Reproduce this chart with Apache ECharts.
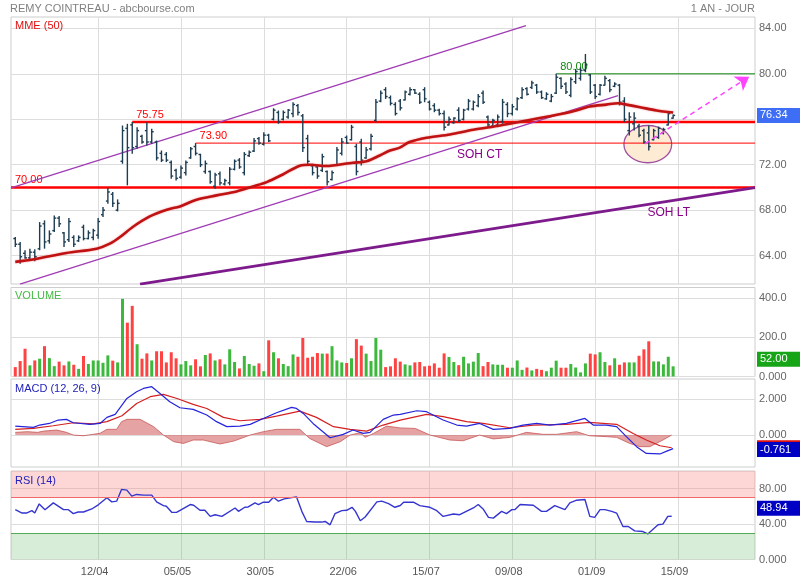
<!DOCTYPE html>
<html><head><meta charset="utf-8">
<script src="https://cdn.jsdelivr.net/npm/echarts@6/dist/echarts.min.js"></script>
<style>html,body{margin:0;padding:0;background:#fff}#c{width:800px;height:580px}</style>
</head><body><div id="c"></div>
<script>
// ---------- DATA ----------
const tickIdx = [17, 34, 51, 68, 85, 102, 119, 136];
const tickLabels = ['12/04', '05/05', '30/05', '22/06', '15/07', '09/08', '01/09', '15/09'];

const opens = [65.5,65.0,64.2,63.8,64.3,64.6,66.8,65.3,66.2,67.3, 66.0,65.4,65.6,65.3,66.5,65.5,65.6,65.8,67.6,68.8,
 69.4,68.0,72.3,75.2,75.5,73.6,74.5,75.0,74.0,74.0, 73.0,72.9,72.2,71.5,70.9,71.3,72.6,73.6,72.9,71.4,
 71.4,70.1,71.2,70.3,70.4,71.6,72.4,71.3,72.8,73.2, 74.3,73.8,74.6,76.0,76.6,76.0,76.2,76.5,77.2,76.3,
 74.3,71.9,71.8,71.5,71.4,70.7,72.0,73.0,74.4,74.2, 73.6,74.0,72.6,73.4,75.9,77.6,78.6,77.9,77.3,77.6,
 77.7,78.2,78.6,78.2,78.6,77.5,77.2,76.8,76.5,75.5, 75.7,76.8,76.0,76.9,76.9,77.2,78.3,76.2,75.4,75.5,
 75.8,77.3,76.5,76.9,77.9,78.7,78.8,79.0,78.4,77.8, 77.6,78.3,79.6,79.1,78.1,79.3,79.6,80.3,79.9,79.0,
 78.2,79.0,79.4,78.9,79.0,77.6,75.0,75.6,75.4,75.0, 74.8,74.2,74.4,74.8,75.5,76.1];
const highs = [65.64,65.20,64.47,64.61,64.55,66.95,67.10,66.22,67.54,67.48, 66.08,67.31,65.78,65.78,66.72,66.22,66.37,67.31,68.27,69.94,
 69.59,68.95,75.45,75.60,75.75,75.30,74.63,75.74,75.16,74.13, 73.25,73.11,72.37,71.64,71.93,72.37,73.55,73.90,72.96,72.37,
 71.50,71.29,71.41,70.76,71.79,72.46,72.58,73.11,73.25,74.34, 74.43,74.86,74.72,76.97,76.77,76.77,76.91,77.50,77.35,76.47,
 74.63,72.08,71.99,72.96,71.50,71.50,73.55,74.34,74.57,75.51, 73.84,74.28,73.55,74.72,77.79,78.53,78.82,78.09,77.50,77.79,
 78.53,78.82,78.67,78.38,78.82,77.65,77.41,76.92,76.77,76.24, 76.18,77.06,76.92,77.79,77.65,78.23,78.53,76.33,76.04,76.42,
 77.79,77.50,77.35,77.94,78.82,78.82,79.40,79.11,78.53,78.38, 78.23,80.00,79.70,79.26,79.70,80.43,80.58,81.75,79.99,79.11,
 79.11,79.84,79.55,79.26,79.11,77.94,76.62,76.62,75.60,75.16, 75.45,75.16,75.36,75.25,76.71,76.42];
const lows = [64.76,63.29,63.73,63.59,63.50,64.47,64.61,65.05,66.08,66.52, 64.76,65.20,64.76,65.20,65.34,65.43,65.34,65.49,67.40,68.57,
 68.27,67.89,72.08,70.18,72.96,73.40,73.84,73.69,73.84,72.37, 72.23,72.23,70.76,70.62,70.76,71.06,72.52,72.81,71.79,71.20,
 70.32,69.88,70.18,70.18,70.18,71.50,71.64,71.06,72.67,73.11, 73.75,73.69,73.99,75.89,75.60,75.89,76.04,76.18,76.33,73.11,
 71.93,71.06,70.76,71.35,70.18,70.62,71.93,72.81,73.84,74.13, 71.06,71.94,72.52,73.25,75.74,77.50,77.79,77.21,76.33,76.77,
 77.65,78.09,78.23,77.35,77.50,76.77,76.62,76.33,75.01,75.45, 75.60,75.74,75.89,76.77,76.77,77.06,77.35,75.30,75.25,75.30,
 75.60,76.18,76.33,76.77,77.79,78.09,78.67,78.23,77.79,77.71, 77.50,78.23,78.67,78.23,77.94,79.11,79.40,80.14,78.23,77.79,
 78.09,78.96,78.38,78.82,77.21,75.74,74.57,75.01,74.42,73.84, 73.25,74.13,74.28,74.66,75.45,76.04];
const closes = [65.0,63.9,63.8,64.3,63.9,66.6,65.2,65.9,67.3,66.8, 65.2,67.0,65.0,65.6,65.5,66.0,66.2,67.0,68.0,69.6,
 68.6,68.6,75.0,73.5,73.5,75.0,74.0,74.0,74.9,72.6, 72.4,72.4,71.0,70.8,71.7,72.2,73.4,73.0,72.0,72.1,
 70.5,71.1,70.4,70.6,71.6,72.3,71.8,72.9,73.1,74.1, 73.9,74.6,74.1,76.8,75.8,76.6,76.8,77.3,76.6,73.5,
 72.3,71.3,71.0,72.7,70.5,71.3,73.3,74.0,73.9,75.3, 71.4,72.4,73.3,74.5,77.5,78.3,78.0,77.4,76.5,77.0,
 78.4,78.6,78.3,77.5,77.8,76.9,76.8,76.5,75.3,76.0, 76.1,75.9,76.8,77.6,77.5,78.0,77.5,75.5,75.9,76.2,
 77.5,76.5,77.1,77.8,78.6,78.2,79.2,78.4,77.9,78.2, 78.0,79.7,78.9,78.4,79.5,80.2,80.3,80.8,78.4,78.0,
 79.0,79.6,78.6,79.1,77.5,76.0,76.2,76.1,74.6,74.0, 73.6,75.0,75.2,75.1,76.5,76.34];

const volumes = [48,79,142,57,82,91,155,94,53,76, 57,77,60,39,105,64,82,82,70,108,
 81,72,397,275,361,165,91,118,82,129, 129,72,124,93,62,79,57,88,52,110,
 118,82,88,62,139,74,41,105,64,55, 67,27,185,124,93,64,53,113,101,197,
 96,101,120,117,117,155,82,72,69,93, 191,158,117,79,197,137,48,52,93,76,
 62,57,72,74,52,55,67,45,118,100, 74,58,101,67,76,120,53,74,62,60,
 60,45,45,82,34,46,31,39,34,27, 45,81,45,45,64,46,21,67,117,113,
 124,74,57,93,60,72,72,72,106,139, 180,77,77,62,101,52];
const volumeUp = [0,0,0,1,0,1,0,1,1,0, 0,1,0,1,0,1,1,1,1,1, 0,1,1,0,0,1,0,0,1,0, 0,0,0,0,1,1,1,0,0,1,
 0,1,0,1,1,1,0,1,1,1, 0,1,0,1,0,1,1,1,0,0, 0,0,0,1,0,1,1,1,0,1, 0,0,1,1,1,1,0,0,0,0,
 1,1,0,0,0,0,0,0,0,1, 1,0,1,1,1,1,0,0,1,1, 1,0,1,1,1,0,1,0,0,1, 1,1,0,0,1,1,1,1,0,0,
 1,1,0,1,0,0,1,1,0,0, 0,1,1,1,1,1];

const mmeX = [0,3.6,10.5,16.7,19.4,21.5,24.1,27.6,31.1,33.8,37.2,41.3,45.4,48.8,51.6,54.9,58.4,60.5,63.9,65.2,
 69.3,72.1,74.8,76.9,78.9,80.9,84.4,89.2,94,99.5,105,110.4,114.5,117.9,121.3,123.7,125.4,128.2,131.6,135];
const mmeY = [63.45,63.65,64.23,64.61,65.05,65.64,66.52,67.45,68.04,68.33,68.92,69.30,69.65,70.09,70.47,71.14,71.91,71.99,71.88,71.93,
 72.17,72.31,72.81,73.25,73.5,73.99,74.37,74.66,75.07,75.45,75.89,76.33,76.71,77.12,77.29,77.41,77.29,77.06,76.77,76.59];

const macdX = [0,3.7,5,7,8.8,10.5,11.9,15.3,17.4,18.8,20.5,22.9,24.9,26.3,28,29.7,31.7,33.8,36.5,39.3,
 41.3,43.4,46.1,48.2,50.9,53.6,56.7,57.7,59.1,61.1,64.6,67.3,69.3,71.4,72.8,75.5,77.6,79,82.4,84.4,
 87.8,90.6,92.6,95.3,98.1,101.5,104.2,107,109.7,113.1,116.9,118.6,121.3,123.4,125.4,127.5,129.5,132.3,133.7,135];
const macdY = [0.50,0.43,0.56,0.65,0.84,0.88,0.69,0.60,0.65,0.99,1.16,2.05,2.43,2.61,2.71,2.33,1.87,1.53,1.44,1.12,
 0.75,0.47,0.50,0.60,0.93,1.25,1.55,1.49,1.21,0.65,-0.15,0.04,0.28,0.09,0.15,0.88,1.12,1.16,1.36,1.31,
 0.84,0.56,0.50,0.65,0.32,0.37,0.56,0.65,0.56,0.65,0.93,0.56,0.56,0.47,-0.09,-0.65,-1.03,-1.06,-0.90,-0.761];
const signalX = [0,3.7,7.8,11.9,16,18.8,21.9,24.9,27.7,30.4,33.2,36.5,39.3,42.7,46.1,50.2,53.6,58.4,61.8,65.3,
 68.7,72.1,75.5,79,84.4,87.8,92.6,96,101.5,106.3,113.1,117.8,123.4,126.8,129.5,132.3,134.7];
const signalY = [0.32,0.37,0.52,0.69,0.63,0.75,1.08,1.77,2.15,2.28,2.05,1.72,1.49,0.99,0.80,0.88,1.06,1.34,0.99,0.47,
 0.32,0.22,0.56,0.84,1.16,1.03,0.75,0.65,0.41,0.56,0.60,0.71,0.60,0.09,-0.28,-0.60,-0.71];
const histX = [0,2.5,4.6,5.8,8.5,10.5,11.9,14,17.4,18.8,20.8,21.8,22.9,25.6,28.4,30.4,32.5,34.5,36.5,38.6,
 42,44.8,48.2,50.9,53.6,58.4,60.4,63.9,66.7,68.7,70.8,71.8,73.5,76.2,79,82.1,85.1,89.2,91.9,95.3,
 98.1,101.5,104.9,108.3,111.1,115.2,117.8,121.3,123.4,126.1,128.2,130.2,132.9,134.7];
const histY = [0.15,0.19,0.15,0.22,0.28,0.15,0,-0.04,0.10,0.32,0.32,0.75,0.88,0.88,0.47,0,-0.37,-0.47,-0.28,-0.28,
 -0.50,-0.34,0,0.19,0.32,0.32,-0.19,-0.65,-0.37,0,0.13,-0.13,0.09,0.50,0.40,0.37,0,-0.28,-0.32,0,
 -0.22,-0.13,0.15,0.04,0.04,0.19,-0.04,-0.09,-0.13,-0.47,-0.65,-0.65,-0.28,0];

const rsiX = [0,1.4,2.3,3.4,4,4.9,6.1,7.8,9.9,10.9, 11.9,12.9,14,15.7,17.1,18.8,19.8,20.8,21.8,22.9,
 23.9,24.9,26.3,28,29,30.4,31,32.1,33.1,35.9, 36.6,37.9,38.9,40,41,42.4,45.1,45.8,47.1,47.8,
 49.2,49.9,50.9,52,53,54,55.2,57.7,58.8,59.8, 61.5,62.9,63.6,64.6,65.6,67,68,69.1,69.8,70.8,
 71.8,74.2,75.2,76.6,77.9,79,79.7,81.7,83,85.1, 86.5,87.8,89.9,91.2,94,95,96,97.1,98.1,99.8,
 100.8,101.9,102.5,103.6,106.3,108,109,110.7,112.8,113.8, 115.2,116.9,117.9,118.9,120,121,122.4,123.4,124.7,125.8,
 127.1,128.8,129.8,131.9,132.9,133.9,134.7];
const rsiY = [56.3,52.5,52.5,55.2,52.5,62.8,56.3,64.0,56.3,56.3, 51.8,53.7,53.7,57.1,62.1,69.7,65.1,65.9,79.2,78.4,
 71.6,73.5,72.7,72.7,65.1,60.9,60.2,53.3,53.3,62.1, 61.3,55.6,55.6,48.7,50.6,48.7,58.2,54.4,59.0,59.4,
 64.0,62.1,64.7,64.7,70.4,65.9,68.5,70.8,54.4,43.0, 42.3,42.3,43.0,39.2,51.8,55.2,55.6,59.0,54.4,43.8,
 48.0,65.1,65.9,63.2,59.0,61,64.7,64.7,60.9,59.0, 55.2,48.7,51.4,50.6,58.2,62.1,57.1,47.6,46.8,54.4,
 51.8,56.3,56.3,62.1,61.3,54.4,54.4,60.9,56.3,64.0, 67.0,67.8,48.7,47.6,56.3,56.3,54.4,52.5,37.3,37.3,
 32.3,31.6,28.9,39.2,40.0,48.7,48.94];
const rsiBands = [70, 30];

// annotations (in data units)
const levelValues = [70, 75.75, 73.9, 80];
const levelStart = [-0.88, 24, 37, 111];
const channelUpper = [[-0.88, 69.96], [104.8, 84.24]];
const channelLower = [[0.96, 61.48], [123.7, 78.09]];
const longSupport = [[25.6, 61.48], [151.8, 69.98]];
const targetArrow = [[129.2, 73.84], [150.6, 79.75]];
const zoneEllipse = [129.8, 73.81, 4.9, 1.64];
const trendNames = ['SOH CT', 'SOH LT'];
const trendNameAt = [[95.3, 72.9], [134.1, 67.8]];

// ---------- CHART ----------
const X_MIN = -0.88, X_MAX = 151.8;
const FONT = '"Liberation Sans", Arial, sans-serif';
const FS = 11;
const pairs = (xs, ys) => xs.map((x, k) => [x, ys[k]]);
const last = a => a[a.length - 1];

const ohlc = opens.map((o, i) => [i, o, highs[i], lows[i], closes[i]]);
const volData = volumes.map((v, i) => ({value: [i, v], itemStyle: {color: volumeUp[i] ? '#3cb93c' : '#ff4343'}}));

const grids = [
  {top: 17, height: 267},
  {top: 287.5, height: 89},
  {top: 379, height: 88},
  {top: 471, height: 88.5}
].map(g => Object.assign({left: 11, right: 45, show: true, borderColor: '#cdcdcd', borderWidth: 1}, g));

function xAxis(idx, showLabel) {
  return {type: 'value', gridIndex: idx, min: X_MIN, max: X_MAX,
    axisLine: {show: false}, axisTick: {show: false, customValues: tickIdx},
    axisLabel: {show: showLabel, customValues: tickIdx, formatter: v => tickLabels[tickIdx.indexOf(v)] || '',
      color: '#555', fontSize: FS, fontFamily: FONT, margin: 7, padding: [0, 7, 0, 0]},
    splitLine: {show: true, lineStyle: {color: '#dddddd', width: 1}}};
}
function yAxis(idx, min, max, vals, fmt) {
  return {type: 'value', gridIndex: idx, position: 'right', min: min, max: max,
    axisLine: {show: false}, axisTick: {show: false, customValues: vals},
    axisLabel: {customValues: vals, formatter: fmt, color: '#666', fontSize: FS, fontFamily: FONT, margin: 4},
    splitLine: {show: true, lineStyle: {color: '#dddddd', width: 1}}};
}
function tagItem(value, text, bg, offsetY) {
  return {yAxis: value,
    lineStyle: {color: 'rgba(0,0,0,0)', width: 1, type: 'solid'},
    label: {show: true, position: 'end', distance: 2, formatter: text, color: '#fff', backgroundColor: bg,
      padding: [2, 14, 2, 3], fontSize: FS, fontFamily: FONT, offset: [0, offsetY || 0]}};
}
function tag(value, text, bg, offsetY) {
  return {symbol: 'none', silent: true, animation: false, data: [tagItem(value, text, bg, offsetY)]};
}

const levelStyles = [
  {color: '#ff0000', width: 2.5}, {color: '#ff0000', width: 2.5},
  {color: '#ff0000', width: 1}, {color: '#118811', width: 1}
];
const titleStyle = (color) => ({color: color, fontSize: FS, fontWeight: 'normal', fontFamily: FONT});

const option = {
  animation: false,
  backgroundColor: '#fff',
  textStyle: {fontFamily: FONT},
  title: [
    {text: 'REMY COINTREAU - abcbourse.com', left: 10, top: 3, padding: 0, textStyle: titleStyle('#808080')},
    {text: '1 AN - JOUR', right: 45, top: 3, padding: 0, textStyle: titleStyle('#808080')},
    {text: 'MME (50)', left: 15, top: 20, padding: 0, textStyle: titleStyle('#e01010')},
    {text: 'VOLUME', left: 15, top: 290.5, padding: 0, textStyle: titleStyle('#44bb44')},
    {text: 'MACD (12, 26, 9)', left: 15, top: 383.5, padding: 0, textStyle: titleStyle('#2222bb')},
    {text: 'RSI (14)', left: 15, top: 475, padding: 0, textStyle: titleStyle('#2222bb')}
  ],
  grid: grids,
  xAxis: [xAxis(0, false), xAxis(1, false), xAxis(2, false), xAxis(3, true)],
  yAxis: [
    yAxis(0, 61.5, 85, [64, 68, 72, 76, 80, 84], v => v.toFixed(2)),
    yAxis(1, 0, 455, [0, 200, 400], v => v === 0 ? '0.000' : v.toFixed(1)),
    yAxis(2, -1.79, 3.14, [0, 2], v => v.toFixed(3)),
    yAxis(3, 0, 100, [0, 40, 80], v => v === 0 ? '0.000' : v.toFixed(2))
  ],
  series: [
    // zone ellipse
    {type: 'custom', xAxisIndex: 0, yAxisIndex: 0, z: 1, silent: true, clip: true,
      data: [zoneEllipse],
      renderItem: (params, api) => {
        const c = api.coord([api.value(0), api.value(1)]);
        const s = api.size([api.value(2), api.value(3)], [api.value(0), api.value(1)]);
        return {type: 'ellipse', shape: {cx: c[0], cy: c[1], rx: s[0], ry: s[1]},
          style: {fill: '#fdebd4', stroke: '#a050a0', lineWidth: 1.3}};
      }},
    // horizontal levels
    {type: 'custom', xAxisIndex: 0, yAxisIndex: 0, z: 2, silent: true, clip: true,
      data: levelValues.map((v, k) => [levelStart[k], v]),
      renderItem: (params, api) => {
        const st = levelStyles[params.dataIndex];
        const p1 = api.coord([api.value(0), api.value(1)]);
        const p2 = api.coord([X_MAX, api.value(1)]);
        return {type: 'group', children: [
          {type: 'line', shape: {x1: p1[0], y1: p1[1], x2: p2[0], y2: p2[1]}, style: {stroke: st.color, lineWidth: st.width}},
          {type: 'text', x: p1[0] + 4, y: p1[1] - 1.5,
            style: {text: api.value(1).toFixed(2), fill: st.color, font: FS + 'px ' + FONT, align: 'left', verticalAlign: 'bottom'}}
        ]};
      }},
    // channel lines
    {type: 'line', xAxisIndex: 0, yAxisIndex: 0, z: 2, data: channelUpper, symbol: 'none', silent: true,
      lineStyle: {color: '#a03cb4', width: 1.3}},
    {type: 'line', xAxisIndex: 0, yAxisIndex: 0, z: 2, data: channelLower, symbol: 'none', silent: true,
      lineStyle: {color: '#a03cb4', width: 1.3}},
    {type: 'line', xAxisIndex: 0, yAxisIndex: 0, z: 2, data: longSupport, symbol: 'none', silent: true,
      lineStyle: {color: '#7d1a8c', width: 2.8}},
    // OHLC bars
    {type: 'custom', xAxisIndex: 0, yAxisIndex: 0, z: 3, silent: true, clip: true,
      data: ohlc, encode: {x: 0, y: [1, 2, 3, 4]},
      renderItem: (params, api) => {
        const i = api.value(0);
        const pO = api.coord([i, api.value(1)]);
        const pH = api.coord([i, api.value(2)]);
        const pL = api.coord([i, api.value(3)]);
        const pC = api.coord([i, api.value(4)]);
        const st = {stroke: '#1d3d52', lineWidth: 1.4};
        return {type: 'group', children: [
          {type: 'line', shape: {x1: pH[0], y1: pH[1], x2: pL[0], y2: pL[1]}, style: st},
          {type: 'line', shape: {x1: pO[0] - 2, y1: pO[1], x2: pO[0], y2: pO[1]}, style: st},
          {type: 'line', shape: {x1: pC[0], y1: pC[1], x2: pC[0] + 2, y2: pC[1]}, style: st}
        ]};
      }},
    // MME 50
    {type: 'line', xAxisIndex: 0, yAxisIndex: 0, z: 4, data: pairs(mmeX, mmeY), symbol: 'none', smooth: 0.3, silent: true,
      lineStyle: {color: '#c01212', width: 2.6, shadowColor: 'rgba(230,60,60,0.5)', shadowBlur: 2},
      markLine: tag(last(closes), last(closes).toFixed(2), '#3d6ef5', 0)},
    // dashed target arrow
    {type: 'lines', coordinateSystem: 'cartesian2d', xAxisIndex: 0, yAxisIndex: 0, z: 5, silent: true,
      symbol: ['none', 'arrow'], symbolSize: 13,
      lineStyle: {color: '#ff44ff', width: 1.5, type: [5, 4], opacity: 1},
      data: [{coords: targetArrow}]},
    // trend names
    {type: 'custom', xAxisIndex: 0, yAxisIndex: 0, z: 5, silent: true,
      data: trendNameAt,
      renderItem: (params, api) => {
        const p = api.coord([api.value(0), api.value(1)]);
        return {type: 'text', x: p[0], y: p[1],
          style: {text: trendNames[params.dataIndex], fill: '#880088', font: '12px ' + FONT, align: 'center', verticalAlign: 'middle'}};
      }},
    // volume
    {type: 'bar', xAxisIndex: 1, yAxisIndex: 1, data: volData, barWidth: 3, silent: true,
      markLine: tag(last(volumes), last(volumes).toFixed(2), '#16a516', -7)},
    // MACD histogram
    {type: 'line', xAxisIndex: 2, yAxisIndex: 2, z: 2, data: pairs(histX, histY), symbol: 'none', silent: true,
      lineStyle: {color: '#c85858', width: 0.8}, areaStyle: {color: 'rgba(205,80,80,0.75)'}},
    // signal
    {type: 'line', xAxisIndex: 2, yAxisIndex: 2, z: 3, data: pairs(signalX, signalY), symbol: 'none', silent: true,
      lineStyle: {color: '#d42020', width: 1.2},
      markLine: tag(last(signalY), last(signalY).toFixed(3), '#dd1111', 0)},
    // MACD
    {type: 'line', xAxisIndex: 2, yAxisIndex: 2, z: 4, data: pairs(macdX, macdY), symbol: 'none', silent: true,
      lineStyle: {color: '#2424dd', width: 1.2},
      markLine: tag(last(macdY), last(macdY).toFixed(3), '#0000c4', 1)},
    // RSI
    {type: 'line', xAxisIndex: 3, yAxisIndex: 3, z: 4, data: pairs(rsiX, rsiY), symbol: 'none', silent: true,
      lineStyle: {color: '#3535d0', width: 1.4},
      markArea: {silent: true, data: [
        [{yAxis: rsiBands[0], itemStyle: {color: 'rgba(248,120,120,0.3)'}}, {yAxis: 100}],
        [{yAxis: 0, itemStyle: {color: 'rgba(90,180,90,0.24)'}}, {yAxis: rsiBands[1]}]
      ]},
      markLine: {symbol: 'none', silent: true, animation: false, data: [
        {yAxis: rsiBands[0], lineStyle: {color: '#f06a6a', width: 1.2, type: 'solid'}, label: {show: false}},
        {yAxis: rsiBands[1], lineStyle: {color: '#55aa55', width: 1.2, type: 'solid'}, label: {show: false}},
        tagItem(last(rsiY), last(rsiY).toFixed(2), '#0000c4', -8)
      ]}}
  ]
};

const chart = echarts.init(document.getElementById('c'));
chart.setOption(option);
</script></body></html>
